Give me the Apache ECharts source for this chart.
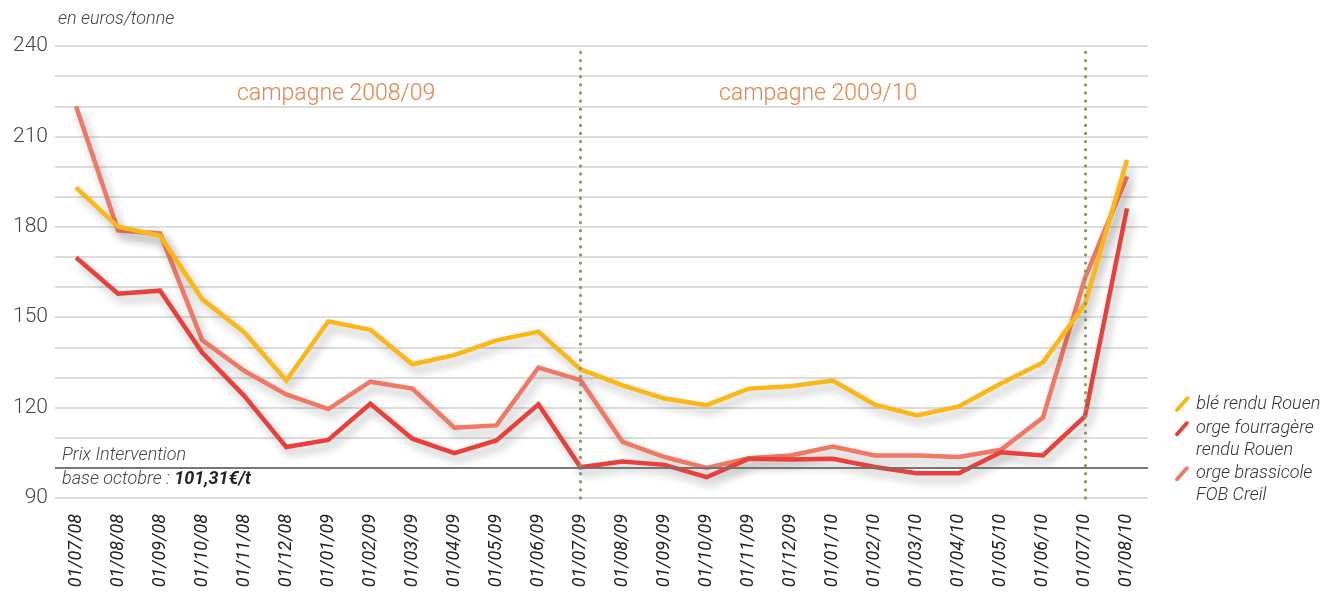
<!DOCTYPE html>
<html>
<head>
<meta charset="utf-8">
<title>Prix des céréales</title>
<script src="https://cdn.jsdelivr.net/npm/echarts@6/dist/echarts.min.js"></script>
<style>
  html, body { margin: 0; padding: 0; background: #fff; }
  #main { width: 1324px; height: 595px; }
</style>
</head>
<body>
<div id="main"></div>
<script>
// mois (axe des x)
var mois = ['01/07/08', '01/08/08', '01/09/08', '01/10/08', '01/11/08', '01/12/08',
  '01/01/09', '01/02/09', '01/03/09', '01/04/09', '01/05/09', '01/06/09',
  '01/07/09', '01/08/09', '01/09/09', '01/10/09', '01/11/09', '01/12/09',
  '01/01/10', '01/02/10', '01/03/10', '01/04/10', '01/05/10', '01/06/10',
  '01/07/10', '01/08/10'];

// prix en euros/tonne
var ble = [193, 180, 177, 156, 145, 129, 148.6, 145.8, 134.4, 137.4, 142.3, 145.2,
  132.7, 127.4, 123, 120.8, 126.3, 127.1, 129, 121, 117.4, 120.4, 128, 135, 154.4, 202.2];
var orgeFourragere = [169.8, 157.8, 158.8, 138.3, 123.9, 106.9, 109.3, 121.3, 109.7, 104.9, 109.1, 121.1,
  100.2, 102.1, 101, 96.9, 103, 102.8, 103, 100.3, 98.2, 98.2, 105.2, 104.1, 117.1, 186.1];
var orgeBrassicole = [220, 178.8, 177.8, 142.4, 132.2, 124.4, 119.5, 128.6, 126.3, 113.3, 114.1, 133.3,
  129.1, 108.6, 103.6, 100, 103.2, 104.1, 107.1, 104.1, 104.1, 103.6, 106, 116.7, 163, 196.7];

var debutsCampagne = ['01/07/09', '01/07/10'];
var prixIntervention = 100;

var nomBle = 'blé rendu Rouen';
var nomFourragere = 'orge fourragère\nrendu Rouen';
var nomBrassicole = 'orge brassicole\nFOB Creil';

var ombre = {
  shadowColor: 'rgba(0,0,0,0.28)',
  shadowBlur: 10,
  shadowOffsetX: 4,
  shadowOffsetY: 6
};

function ligne(nom, data, couleur) {
  return {
    name: nom,
    type: 'line',
    data: data,
    symbol: 'none',
    lineStyle: Object.assign({ color: couleur, width: 4.5, join: 'miter' }, ombre),
    itemStyle: { color: couleur },
    z: 3
  };
}

// trait oblique de la légende
var trait = 'M0,9 L7.5,0.6 Q8.6,-0.4 9.6,0.6 Q10.4,1.6 9.5,2.6 L2,11 Q0.9,12 0,11 Q-0.8,10 0,9 Z';
// même trait, calé sur la première ligne d'un texte à deux lignes
var traitHaut = trait + ' M0,-3 L0.01,-3 Z M0,30 L0.01,30 Z';

var texteLegende = {
  fontFamily: 'Roboto',
  fontStyle: 'italic',
  fontWeight: 300,
  fontSize: 18,
  lineHeight: 22,
  color: '#333'
};

function legende(nom, top, icone, hauteur) {
  return {
    orient: 'vertical',
    left: 1170,
    top: top,
    itemWidth: 18,
    itemHeight: hauteur,
    icon: 'path://' + icone,
    data: [nom],
    textStyle: texteLegende
  };
}

var myChart = echarts.init(document.getElementById('main'));

var seriesBrassicole = ligne(nomBrassicole, orgeBrassicole, '#f07864');
var seriesFourragere = ligne(nomFourragere, orgeFourragere, '#ea403b');
var seriesBle = ligne(nomBle, ble, '#fbb716');

// lignes pointillées de début de campagne
seriesBle.markLine = {
  silent: true,
  symbol: ['none', 'none'],
  animation: false,
  label: { show: false },
  lineStyle: { color: '#7fa05c', width: 3.2, type: [0.1, 8], cap: 'round' },
  data: debutsCampagne.map(function (m) { return { xAxis: m }; })
};

// prix d'intervention
seriesFourragere.markLine = {
  silent: true,
  symbol: ['none', 'none'],
  animation: false,
  lineStyle: { color: '#707070', width: 1.5, type: 'solid' },
  data: [
    {
      yAxis: prixIntervention,
      label: {
        show: true,
        position: 'insideStartTop',
        distance: [7, 3],
        formatter: 'Prix Intervention',
        fontFamily: 'Roboto',
        fontStyle: 'italic',
        fontWeight: 300,
        fontSize: 18,
        color: '#444'
      }
    },
    {
      yAxis: prixIntervention,
      label: {
        show: true,
        position: 'insideStartBottom',
        distance: [7, 3],
        formatter: '{a|base octobre : }{b|101,31€/t}',
        rich: {
          a: { fontFamily: 'Roboto', fontStyle: 'italic', fontWeight: 300, fontSize: 18, color: '#444' },
          b: { fontFamily: 'Roboto', fontStyle: 'italic', fontWeight: 'bold', fontSize: 18, color: '#222' }
        }
      }
    }
  ]
};

var option = {
  backgroundColor: '#fff',
  animation: false,
  grid: { left: 55, right: 176, top: 46, bottom: 97 },
  legend: [
    legende(nomBle, 388, trait, 16),
    legende(nomFourragere, 412, traitHaut, 44),
    legende(nomBrassicole, 457, traitHaut, 44)
  ],
  graphic: [
    {
      type: 'text', left: 58, top: 10,
      style: { text: 'en euros/tonne', font: 'italic 300 18px Roboto', fill: '#444' }
    },
    {
      type: 'text', left: 237, top: 83,
      style: { text: 'campagne 2008/09', font: '300 23px Roboto', fill: '#e8834e' }
    },
    {
      type: 'text', left: 719, top: 83,
      style: { text: 'campagne 2009/10', font: '300 23px Roboto', fill: '#e8834e' }
    }
  ],
  xAxis: {
    type: 'category',
    data: mois,
    boundaryGap: true,
    axisLine: { show: false },
    axisTick: { show: false },
    axisLabel: {
      rotate: 90,
      margin: 16,
      fontFamily: 'Roboto',
      fontStyle: 'italic',
      fontSize: 18,
      color: '#222',
      interval: 0
    }
  },
  yAxis: {
    type: 'value',
    min: 90,
    max: 240,
    interval: 10,
    axisLine: { show: false },
    axisTick: { show: false },
    splitLine: { lineStyle: { color: '#d2d2d2', width: 1.5 } },
    axisLabel: {
      margin: 7,
      fontFamily: 'Roboto',
      fontWeight: 300,
      fontSize: 21,
      color: '#444',
      formatter: function (v) { return v % 30 === 0 ? String(v) : ''; }
    }
  },
  series: [seriesBrassicole, seriesFourragere, seriesBle]
};

myChart.setOption(option);
</script>
</body>
</html>
